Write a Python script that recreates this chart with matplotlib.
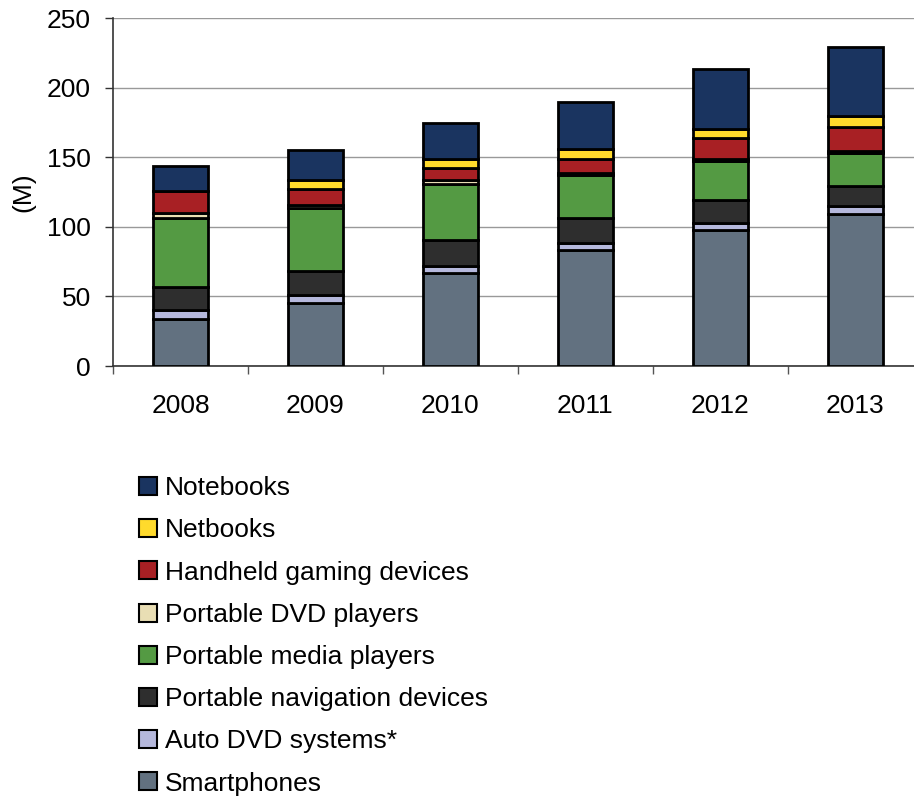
import numpy as np
import matplotlib.pyplot as plt
from matplotlib.patches import Patch

plt.rcParams['font.family'] = ['Liberation Sans', 'DejaVu Sans']

years = ["2008", "2009", "2010", "2011", "2012", "2013"]

# shipments in millions, bottom of the stack first
smartphones = [33.5, 45.5, 67, 83, 97.5, 109]
auto_dvd = [6.5, 5.5, 5, 5.5, 5.5, 6]
navigation = [16.5, 17, 18.5, 17.5, 16.5, 14.5]
media_players = [50, 45.5, 40, 31.5, 27.5, 23.5]
portable_dvd = [3.5, 2.5, 3, 1.5, 1.5, 1.5]
handheld_gaming = [16, 11.5, 8.5, 10, 15, 17]
netbooks = [0, 6.5, 6.5, 7, 7, 8]
notebooks = [18, 21, 26, 34, 43, 50]

series = [
    ("Smartphones", smartphones, "#627180"),
    ("Auto DVD systems*", auto_dvd, "#b5b8dc"),
    ("Portable navigation devices", navigation, "#2e2e2e"),
    ("Portable media players", media_players, "#549a43"),
    ("Portable DVD players", portable_dvd, "#e9deb4"),
    ("Handheld gaming devices", handheld_gaming, "#a82024"),
    ("Netbooks", netbooks, "#ffda2c"),
    ("Notebooks", notebooks, "#1a3460"),
]

fs = 19

fig = plt.figure(figsize=(9.14, 7.99), dpi=100)
ax = fig.add_axes([0.1236, 0.5419, 0.886, 0.4355])

x = np.arange(len(years)) + 0.5
bottom = np.zeros(len(years))
for name, vals, color in series:
    vals = np.array(vals, dtype=float)
    ax.bar(x, vals, 0.41, bottom=bottom, color=color, edgecolor="black",
           linewidth=2, zorder=3)
    bottom += vals

ax.set_xlim(0, 6)
ax.set_ylim(0, 250)
ax.set_yticks(np.arange(0, 251, 50))
ax.tick_params(axis="y", labelsize=fs, length=6, width=1, pad=10, color="#333333")
ax.yaxis.grid(True, color="#999999", linewidth=1, zorder=0)
ax.set_axisbelow(True)

# category boundaries get the tick marks, labels sit in the middle
ax.set_xticks(np.arange(0, 7))
ax.set_xticklabels([])
ax.set_xticks(x, minor=True)
ax.set_xticklabels(years, minor=True)
ax.tick_params(axis="x", which="major", length=6, width=1, color="#555555")
ax.tick_params(axis="x", which="minor", length=0, labelsize=fs, pad=20)

for side in ["top", "right"]:
    ax.spines[side].set_visible(False)
for side in ["left", "bottom"]:
    ax.spines[side].set_color("#333333")
    ax.spines[side].set_linewidth(1.2)

ax.set_ylabel("(M)", fontsize=fs, labelpad=8)

handles = [Patch(facecolor=c, edgecolor="black", linewidth=1.5) for _, _, c in series][::-1]
labels = [n for n, _, _ in series][::-1]
fig.legend(handles, labels, loc="upper left", bbox_to_anchor=(0.152, 0.404),
           frameon=False, fontsize=fs, handlelength=0.68, handleheight=0.68,
           handletextpad=0.3, labelspacing=0.69, borderpad=0, borderaxespad=0)

plt.savefig("out.png", dpi=100)
